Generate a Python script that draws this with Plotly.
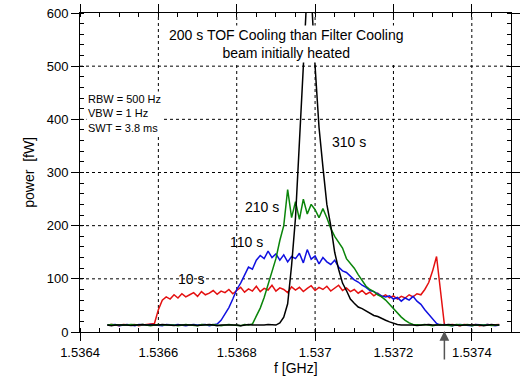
import plotly.graph_objects as go

# Sweep frequencies [GHz]
FREQ = [
    1.53647, 1.53648, 1.53649, 1.53650, 1.53651, 1.53652, 1.53653, 1.53654, 1.53655, 1.53656,
    1.53657, 1.53658, 1.53659, 1.53660, 1.53661, 1.53662, 1.53663, 1.53664, 1.53665, 1.53666,
    1.53667, 1.53668, 1.53669, 1.53670, 1.53671, 1.53672, 1.53673, 1.53674, 1.53675, 1.53676,
    1.53677, 1.53678, 1.53679, 1.53680, 1.53681, 1.53682, 1.53683, 1.53684, 1.53685, 1.53686,
    1.53687, 1.53688, 1.53689, 1.53690, 1.53691, 1.53692, 1.53693, 1.53694, 1.53695, 1.53696,
    1.53697, 1.53698, 1.53699, 1.53700, 1.53701, 1.53702, 1.53703, 1.53704, 1.53705, 1.53706,
    1.53707, 1.53708, 1.53709, 1.53710, 1.53711, 1.53712, 1.53713, 1.53714, 1.53715, 1.53716,
    1.53717, 1.53718, 1.53719, 1.53720, 1.53721, 1.53722, 1.53723, 1.53724, 1.53725, 1.53726,
    1.53727, 1.53728, 1.53729, 1.53730, 1.53731, 1.53732, 1.53733, 1.53734, 1.53735, 1.53736,
    1.53737, 1.53738, 1.53739, 1.53740, 1.53741, 1.53742, 1.53743, 1.53744, 1.53745, 1.53746,
    1.53747,
]

# Schottky power spectra [fW] after 10 s, 110 s, 210 s and 310 s of cooling
P_10S = [
    13, 14, 13, 12, 14, 13, 13, 14, 12, 13,
    14, 15, 16, 42, 60, 66, 62, 70, 64, 72,
    66, 70, 74, 67, 76, 70, 73, 78, 71, 77,
    74, 80, 72, 78, 84, 75, 81, 77, 86, 76,
    82, 79, 88, 77, 83, 80, 74, 85, 79, 84,
    76, 82, 87, 78, 84, 80, 86, 77, 82, 88,
    78, 83, 76, 80, 73, 78, 71, 75, 68, 73,
    66, 70, 64, 68, 62, 67, 64, 70, 66, 72,
    70, 80, 93, 115, 142, 75, 14, 13, 14, 13,
    12, 14, 13, 13, 14, 12, 13, 14, 13, 13,
    14,
]
P_110S = [
    13, 13, 14, 12, 13, 14, 13, 12, 14, 13,
    13, 14, 13, 13, 12, 14, 13, 13, 14, 13,
    12, 13, 14, 13, 13, 14, 12, 13, 15, 22,
    33, 46, 62, 80, 92, 108, 122, 118, 135, 144,
    138, 152, 140, 147, 135, 145, 132, 142, 138, 148,
    130, 155, 137, 143, 128, 140, 132, 127, 135, 122,
    115, 112, 104, 98, 94, 88, 84, 78, 76, 72,
    68, 66, 68, 62, 65, 58, 64, 60, 67, 58,
    52, 42, 34, 25, 16, 13, 14, 13, 12, 13,
    14, 13, 13, 12, 14, 13, 13, 14, 13, 12,
    13,
]
P_210S = [
    13, 14, 13, 13, 12, 13, 14, 13, 13, 14,
    13, 12, 13, 14, 13, 13, 14, 13, 12, 13,
    14, 13, 13, 12, 14, 13, 13, 14, 13, 12,
    13, 14, 13, 13, 12, 14, 13, 15, 30, 45,
    65, 90, 115, 138, 172, 200, 268, 215, 245, 212,
    250, 222, 240, 230, 215, 232, 215, 195, 180, 168,
    158, 138, 130, 120, 108, 98, 86, 80, 76, 70,
    66, 60, 52, 42, 34, 28, 22, 17, 14, 13,
    13, 14, 13, 12, 13, 14, 13, 13, 12, 14,
    13, 13, 14, 12, 13, 13, 14, 13, 12, 13,
    13,
]
P_310S = [
    13, 12, 13, 13, 14, 13, 12, 13, 13, 14,
    13, 13, 12, 13, 14, 13, 13, 12, 13, 13,
    14, 13, 13, 12, 13, 13, 14, 13, 12, 13,
    13, 14, 13, 13, 12, 13, 14, 13, 13, 12,
    13, 14, 13, 13, 17, 28, 53, 125, 215, 350,
    500, 650, 640, 500, 385, 310, 240, 200, 150, 118,
    92, 78, 62, 54, 47, 44, 40, 35, 31, 29,
    25, 22, 19, 16, 14, 13, 13, 14, 13, 12,
    13, 13, 14, 13, 13, 12, 13, 14, 13, 13,
    12, 13, 13, 14, 13, 13, 12, 13, 14, 13,
    13,
]

# Dotted grid positions
X_GRID = [1.5366, 1.5368, 1.5370, 1.5372, 1.5374]
Y_GRID = [100, 200, 300, 400, 500]

FONT = "Liberation Sans, Arial, sans-serif"

fig = go.Figure()
for values, color in [
    (P_10S, "#e41010"),
    (P_110S, "#1010e0"),
    (P_210S, "#0a850a"),
    (P_310S, "#000000"),
]:
    fig.add_trace(go.Scatter(
        x=FREQ, y=values, mode="lines",
        line=dict(color=color, width=1.5),
        showlegend=False, hoverinfo="skip",
    ))

axis_style = dict(
    showgrid=False,
    showline=True, linecolor="black", mirror="allticks",
    ticks="outside", ticklen=8, tickcolor="black",
    tickfont=dict(size=13),
)
fig.update_xaxes(
    range=[1.5364, 1.5375], tick0=1.5364, dtick=0.0002,
    minor=dict(ticks="inside", ticklen=4, tickcolor="black", dtick=0.00005),
    **axis_style,
)
fig.update_yaxes(
    range=[0, 600], dtick=100,
    minor=dict(ticks="inside", ticklen=4, tickcolor="black", dtick=20),
    **axis_style,
)

# dotted grid drawn underneath the spectra
for gx in X_GRID:
    fig.add_shape(type="line", xref="x", yref="paper", x0=gx, x1=gx, y0=0, y1=1,
                  line=dict(color="black", width=1, dash="dot"), layer="below")
for gy in Y_GRID:
    fig.add_shape(type="line", xref="paper", yref="y", x0=0, x1=1, y0=gy, y1=gy,
                  line=dict(color="black", width=1, dash="dot"), layer="below")

annotations = [
    # axis titles
    dict(x=0.5, y=-0.1442, xref="paper", yref="paper", text="f [GHz]", font=dict(size=14)),
    dict(x=-0.1432, y=0.5, xref="paper", yref="paper", text="power  [fW]",
         textangle=-90, font=dict(size=14)),
    # heading and analyser settings
    dict(x=1.5369275, y=542, text="200 s TOF Cooling than Filter Cooling<br>beam initially heated",
         font=dict(size=14), bgcolor="white", borderpad=1),
    dict(x=1.536415, y=411, xanchor="left", align="left",
         text="RBW = 500 Hz<br>VBW = 1 Hz<br>SWT = 3.8 ms",
         font=dict(size=11), bgcolor="white", borderpad=1),
    # curve labels
    dict(x=1.5370875, y=357, text="310 s", font=dict(size=14)),
    dict(x=1.536865, y=236, text="210 s", font=dict(size=14)),
    dict(x=1.536825, y=170, text="110 s", font=dict(size=14)),
    dict(x=1.5366838, y=99, text="10 s", font=dict(size=14)),
]
for a in annotations:
    a.setdefault("xref", "x")
    a.setdefault("yref", "y")
    a["showarrow"] = False
    a["font"] = dict(family=FONT, color="black", **a["font"])
    fig.add_annotation(**a)

# marker arrow below the axis
fig.add_annotation(
    x=1.53733, y=2, xref="x", yref="y", text="", showarrow=True,
    ax=0, ay=30, arrowhead=2, arrowsize=1.3, arrowwidth=1.5, arrowcolor="#555555",
)

fig.update_layout(
    width=522, height=389,
    margin=dict(l=80, r=2, t=13, b=57),
    paper_bgcolor="white", plot_bgcolor="white",
    font=dict(family=FONT, size=14, color="black"),
)

fig.write_html("out.html")
